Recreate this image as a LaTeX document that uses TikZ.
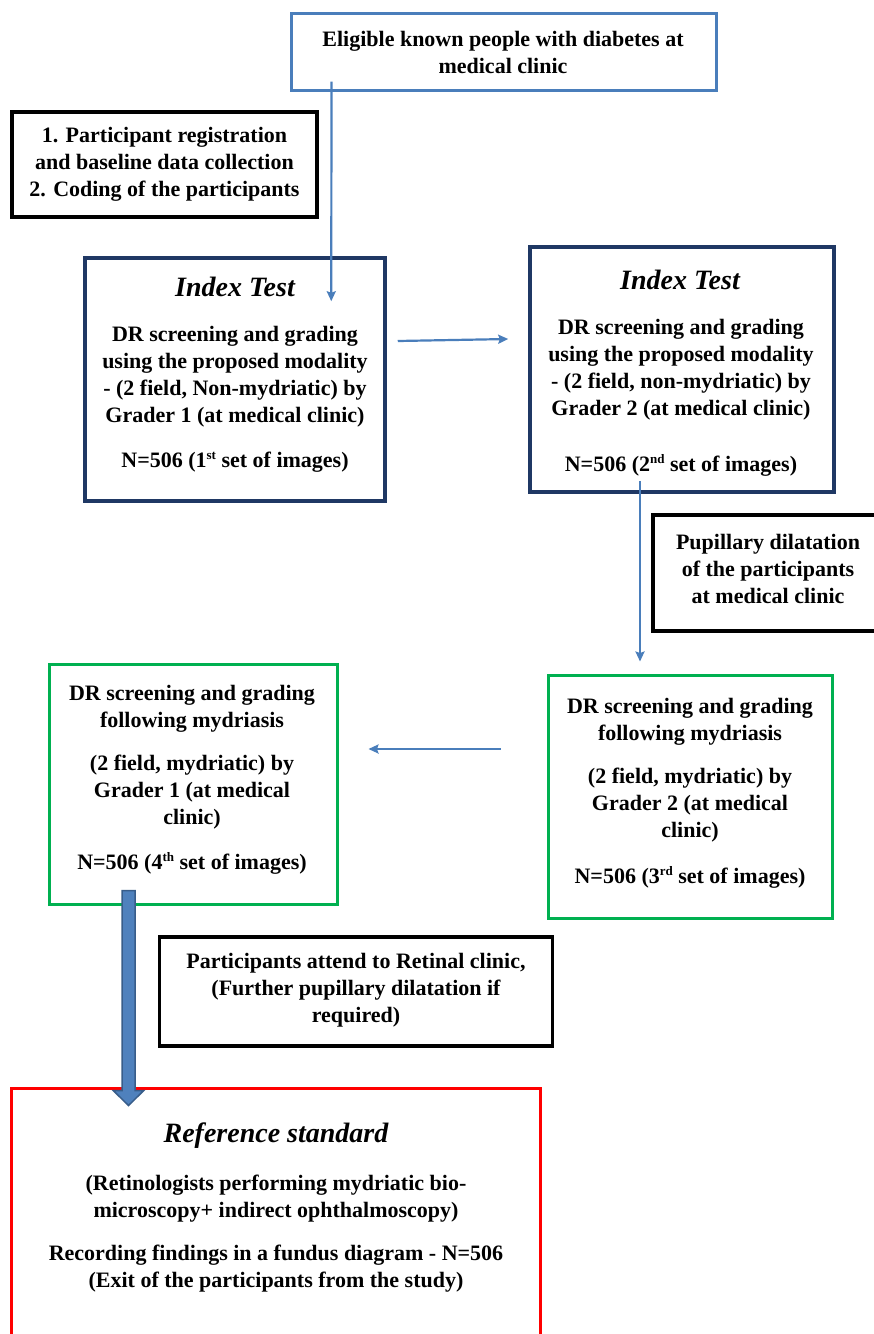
\documentclass[tikz,border=0pt]{standalone}
\usepackage{fontspec}
\setmainfont{Liberation Serif}
\usetikzlibrary{arrows.meta,calc}
\definecolor{lblue}{HTML}{4A7EBB}
\definecolor{navy}{HTML}{1F3864}
\definecolor{grn}{HTML}{00B050}
\definecolor{redc}{HTML}{FF0000}
\definecolor{barfill}{HTML}{4F81BD}
\definecolor{barline}{HTML}{385D8A}
\newcommand{\supx}[1]{\raisebox{8pt}{\fontsize{13}{13}\selectfont #1}}
\begin{document}
\begin{tikzpicture}[x=1pt,y=-1pt,
  box/.style={rectangle,inner sep=0pt,line width=#1},
  box/.default=3pt,
  txt/.style={inner sep=0pt,align=center,font=\fontsize{22}{27}\selectfont\bfseries},
  ttl/.style={inner sep=0pt,font=\fontsize{28}{32}\selectfont\bfseries\itshape},
  conn/.style={draw=lblue,line width=2.2pt,-{Stealth[length=10pt,width=9pt,inset=1.5pt]}}]
\useasboundingbox (0,0) rectangle (874,1334);
% boxes
\node[box,draw=lblue,minimum width=425pt,minimum height=77pt] (top) at (503.5,51.5) {};
\node[box=3.5pt,draw=black,minimum width=305pt,minimum height=105pt] (reg) at (164.5,164.5) {};
\node[box=3.5pt,draw=navy,minimum width=300pt,minimum height=243pt] (idx1) at (235,379.5) {};
\node[box=3.5pt,draw=navy,minimum width=304pt,minimum height=245pt] (idx2) at (682,369.5) {};
\node[box=3.5pt,draw=black,minimum width=231pt,minimum height=116pt] (pup) at (768.5,573) {};
\node[box,draw=grn,minimum width=288pt,minimum height=240pt] (gl) at (193,784) {};
\node[box,draw=grn,minimum width=284pt,minimum height=243pt] (gr) at (690,797) {};
\node[box=3.5pt,draw=black,minimum width=393pt,minimum height=109pt] (att) at (356,991.5) {};
\node[box,draw=redc,minimum width=529pt,minimum height=257pt] (ref) at (275.75,1216.5) {};
% texts
\node[txt] (toptxt) at (503,52) {Eligible known people with diabetes at\\medical clinic};
\node[txt] (regtxt) at (164.5,164) {1. Participant registration\\and baseline data collection\\2. Coding of the participants};
\node[ttl] (idx1t) at (235,287) {Index Test};
\node[txt] (idx1a) at (235,377) {DR screening and grading\\using the proposed modality\\- (2 field, Non-mydriatic) by\\Grader 1 (at medical clinic)};
\node[txt] (idx1n) at (235,462) {N=506 (1\supx{st} set of images)};
\node[ttl] (idx2t) at (680,280) {Index Test};
\node[txt] (idx2a) at (681,370) {DR screening and grading\\using the proposed modality\\- (2 field, non-mydriatic) by\\Grader 2 (at medical clinic)};
\node[txt] (idx2n) at (681,465) {N=506 (2\supx{nd} set of images)};
\node[txt] (puptxt) at (768,569) {Pupillary dilatation\\of the participants\\at medical clinic};
\node[txt] (gla) at (192,708.5) {DR screening and grading\\following mydriasis};
\node[txt] (glb) at (192,792) {(2 field, mydriatic) by\\Grader 1 (at medical\\clinic)};
\node[txt] (gln) at (192,863) {N=506 (4\supx{th} set of images)};
\node[txt] (gra) at (690,722) {DR screening and grading\\following mydriasis};
\node[txt] (grb) at (690,805.5) {(2 field, mydriatic) by\\Grader 2 (at medical\\clinic)};
\node[txt] (grn) at (690,877) {N=506 (3\supx{rd} set of images)};
\node[txt] (atttxt) at (356,990) {Participants attend to Retinal clinic,\\(Further pupillary dilatation if\\required)};
\node[ttl] (reft) at (276,1136) {Reference standard};
\node[txt] (refa) at (276,1199) {(Retinologists performing mydriatic bio-\\microscopy+ indirect ophthalmoscopy)};
\node[txt] (refb) at (276,1269) {Recording findings in a fundus diagram - N=506\\(Exit of the participants from the study)};
% connectors
\draw[conn] ([xshift=42pt,yshift=10pt]top.south west) -- ([xshift=248pt,yshift=-45pt]idx1.north west);
\draw[conn] ([xshift=11pt,yshift=38.5pt]idx1.east) -- ([xshift=-20pt,yshift=30.5pt]idx2.west);
\draw[conn] ([xshift=-42pt,yshift=13pt]idx2.south) -- ([xshift=-50pt,yshift=12.5pt]gr.north);
\draw[conn] ([xshift=-46pt,yshift=48pt]gr.west) -- ([xshift=30pt,yshift=35pt]gl.east);
% block arrow
\coordinate (bs) at ([xshift=-64.5pt,yshift=15pt]gl.south);
\coordinate (bt) at ([xshift=-147.25pt,yshift=-19pt]ref.north);
\filldraw[fill=barfill,draw=barline,line width=1.5pt,line join=miter]
  ($(bs)+(-6.5,0)$) -- ($(bs)+(6.5,0)$) -- ($(bt)+(6.5,-15)$) -- ($(bt)+(15.3,-15)$) -- (bt)
  -- ($(bt)+(-15.3,-15)$) -- ($(bt)+(-6.5,-15)$) -- cycle;
\end{tikzpicture}
\end{document}
